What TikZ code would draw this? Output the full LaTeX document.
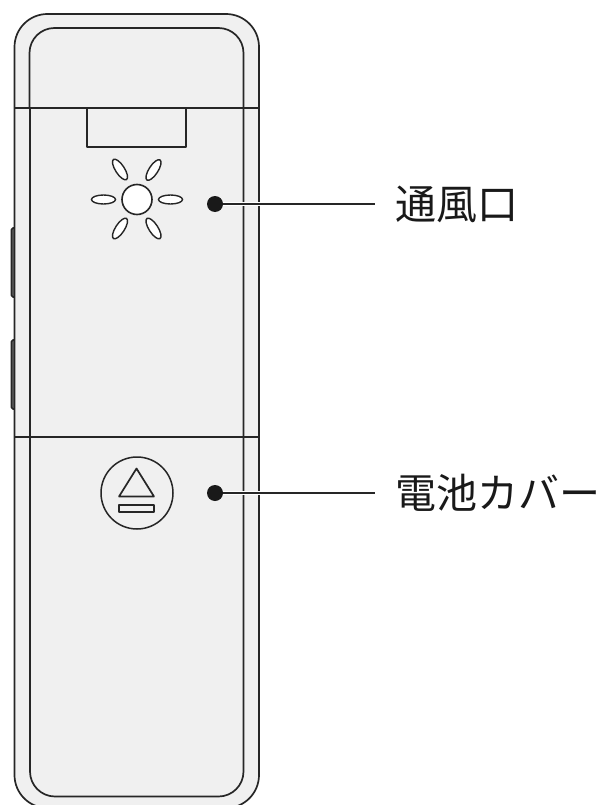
\documentclass[tikz,border=0pt]{standalone}
\usepackage{fontspec}
\newfontfamily\cjk{Noto Sans CJK JP}
\usetikzlibrary{shapes.geometric}
\tikzset{
  x=1pt,y=-1pt,
  ln/.style={draw=black!85,line width=1.7pt,line join=round},
  thinln/.style={draw=black!85,line width=1.3pt},
  petal/.style={draw=black!85,line width=1.4pt,fill=white,ellipse,minimum width=24pt,minimum height=9pt,inner sep=0pt},
  dotn/.style={circle,fill=black!90,minimum size=16pt,inner sep=0pt},
  lab/.style={font=\cjk\fontsize{41}{41}\selectfont,anchor=west,inner sep=0pt,text=black!90},
}
\begin{document}
\begin{tikzpicture}
\useasboundingbox (0,0) rectangle (600,805);
\clip (0,0) rectangle (600,805);
\fill[white] (0,0) rectangle (600,805);
% side buttons
\draw[ln,fill=black!60,rounded corners=1.5pt] (14.5,228) -- (11.5,228) -- (11.5,297) -- (14.5,297);
\draw[ln,fill=black!60,rounded corners=1.5pt] (14.5,340) -- (11.5,340) -- (11.5,409) -- (14.5,409);
% outer body
\draw[ln,fill=black!6,rounded corners=33pt] (14.5,14) rectangle (259,808);
% inner outline
\draw[ln,rounded corners=25pt] (29.5,108) -- (29.5,28) -- (243.5,28) -- (243.5,108);
\draw[ln,rounded corners=25pt] (30,108) -- (30,796.5) -- (243.5,796.5) -- (243.5,108);
% seams
\draw[ln] (14.5,108) -- (259,108);
\draw[ln] (14.5,437) -- (259,437);
% tab
\draw[ln] (87,108) -- (87,147) -- (186,147) -- (186,108);
% vent
\node[circle,draw=black!85,line width=1.6pt,fill=white,minimum size=30pt,inner sep=0pt] (hole) at (137,199.5) {};
\node[petal] (p1) at (103.5,199.5) {};
\node[petal] (p2) at (170.5,199.5) {};
\node[petal,rotate=-57] (p3) at (120,169.5) {};
\node[petal,rotate=57] (p4) at (153.5,170) {};
\node[petal,rotate=57] (p5) at (120,228.5) {};
\node[petal,rotate=-57] (p6) at (153.5,228.5) {};
% eject button
\node[circle,draw=black!85,line width=1.5pt,minimum size=72pt,inner sep=0pt] (btn) at (137,493) {};
\draw[ln] (136.5,468.5) -- (154,496.5) -- (119,496.5) -- cycle;
\draw[ln] (119,505) rectangle (154,512);
% callouts
\node[dotn] (d1) at (215,204) {};
\node[dotn] (d2) at (215,493) {};
\node[lab] (t1) at (395,204) {通風口};
\node[lab] (t2) at (395,493) {電池カバー};
\coordinate (e1) at (375,204);
\coordinate (e2) at (375,493);
\draw[draw=white,line width=3.5pt] (d1) -- (e1);
\draw[draw=white,line width=3.5pt] (d2) -- (e2);
\draw[thinln] (d1) -- (e1);
\draw[thinln] (d2) -- (e2);
\end{tikzpicture}
\end{document}
